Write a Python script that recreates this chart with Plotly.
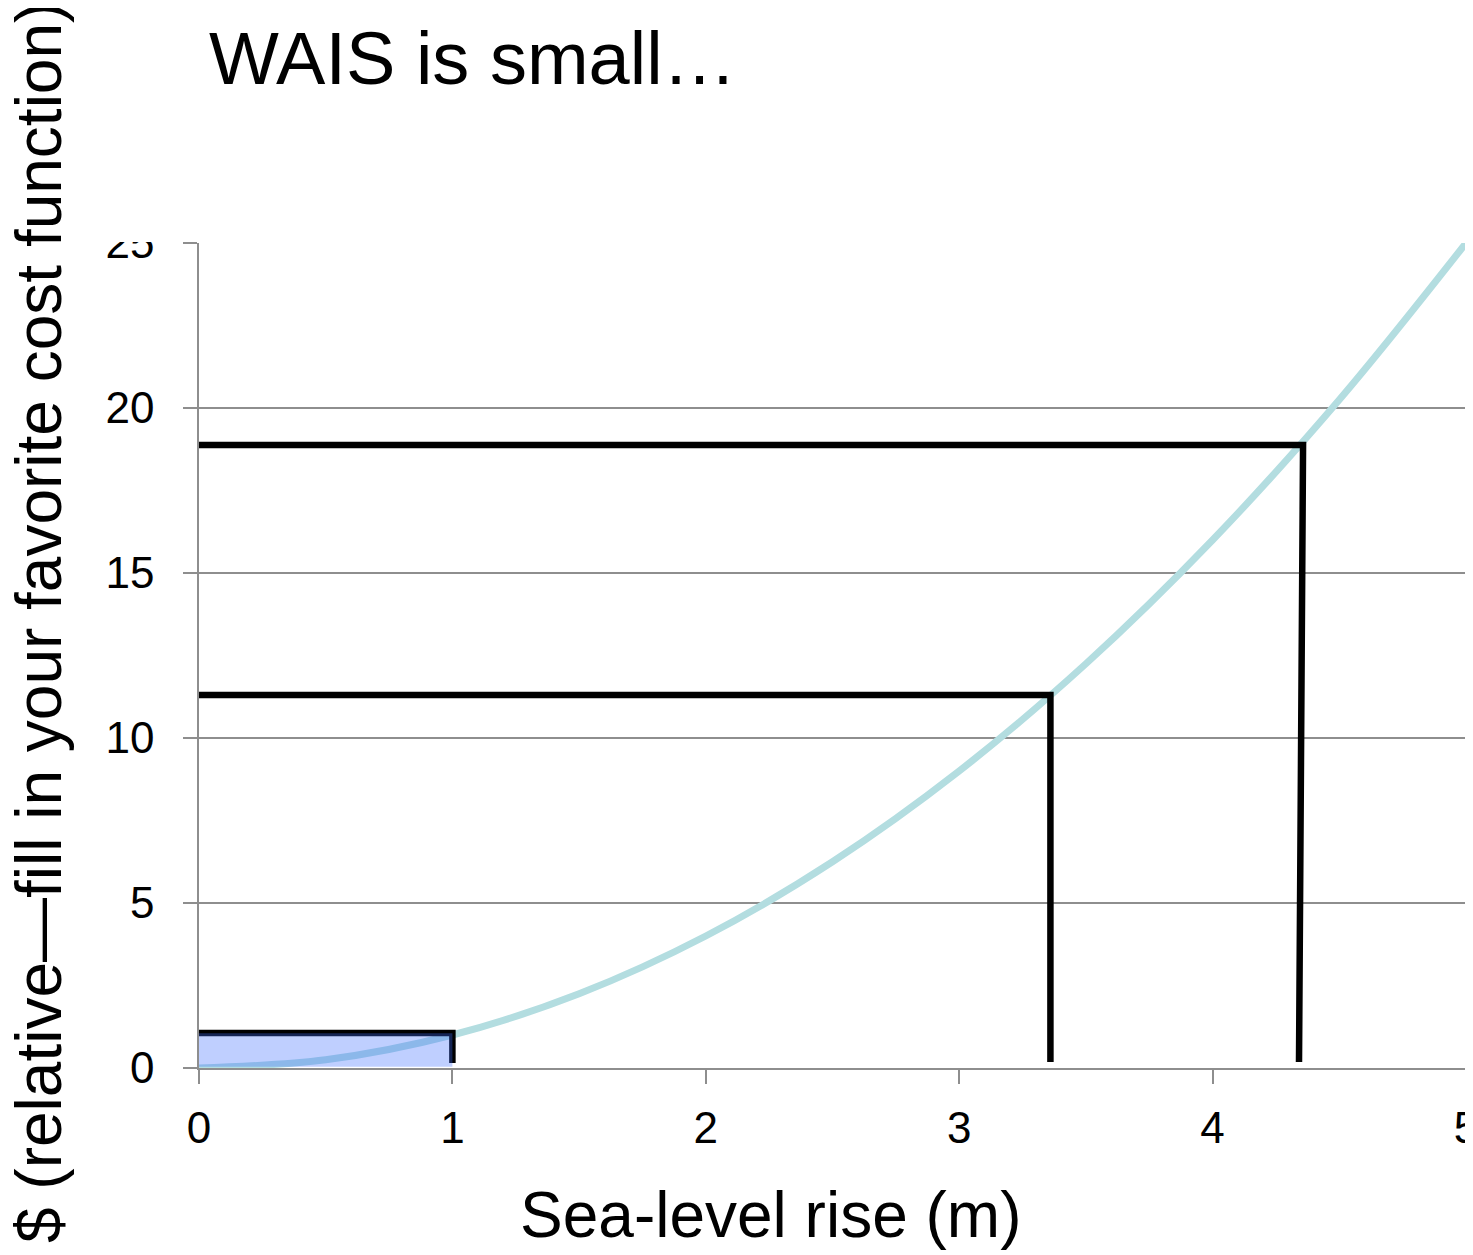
import plotly.graph_objects as go

# ---- data ----
curve_x = [0, 0.5, 1.0, 1.5, 2.0, 2.5, 3.0, 3.5, 4.0, 4.5, 5.0]
curve_y = [0, 0.25, 1.0, 2.25, 4.0, 6.25, 9.0, 12.25, 16.0, 20.25, 25.0]

# marker boxes: corner x (top), corner x (bottom), level y, bottom y
box_x_top = [1.0, 3.36, 4.357]
box_x_bottom = [1.0, 3.36, 4.341]
box_y = [1.06, 11.3, 18.88]
box_bottom = [0.15, 0.18, 0.18]

# shaded small box
shade_x = [0, 1.0]
shade_y = [0.04, 1.05]

x_ticks = [0, 1, 2, 3, 4, 5]
y_ticks = [0, 5, 10, 15, 20, 25]

title_text = "WAIS is small…"
x_title = "Sea-level rise (m)"
y_title = "$ (relative—fill in your favorite cost function)"

FONT = "Liberation Sans, Arial, sans-serif"
OFF = 8  # page offset of the figure in the browser
WIN_W, WIN_H = 1473, 1255
PL, PR, PT, PB = 199, 1466, 243, 1068  # plot area in screen pixels
PW, PH = PR - PL, PB - PT
W, H = WIN_W - OFF, WIN_H - OFF
L, T = PL - OFF, PT - OFF
R = W - L - PW
B = H - T - PH


def px(xp):
    return (xp - PL) / PW


def py(yp):
    return (PB - yp) / PH


fig = go.Figure()

fig.add_trace(go.Scatter(
    x=curve_x, y=curve_y, mode="lines", line=dict(color="#B3DDE0", width=7, shape="spline"),
    hoverinfo="skip", showlegend=False))

for xt, xb, yv, yb in zip(box_x_top, box_x_bottom, box_y, box_bottom):
    fig.add_trace(go.Scatter(
        x=[0, xt, xb], y=[yv, yv, yb], mode="lines",
        line=dict(color="black", width=6.5), hoverinfo="skip", showlegend=False))

fig.add_trace(go.Scatter(
    x=[shade_x[0], shade_x[1], shade_x[1], shade_x[0], shade_x[0]],
    y=[shade_y[0], shade_y[0], shade_y[1], shade_y[1], shade_y[0]],
    mode="lines", fill="toself", fillcolor="rgba(61,110,255,0.33)",
    line=dict(width=0, color="rgba(0,0,0,0)"), hoverinfo="skip", showlegend=False))

axis_common = dict(
    showline=True, linecolor="#8E8E8E", linewidth=1.5,
    ticks="outside", ticklen=14, tickcolor="#8E8E8E", tickwidth=1.5,
    tickfont=dict(family=FONT, size=44, color="black"),
    zeroline=False, ticklabeloverflow="allow", automargin=False,
)

fig.update_xaxes(range=[0, 5], tickvals=x_ticks, showgrid=False,
                 ticklabelstandoff=6, **axis_common)
fig.update_yaxes(range=[0, 25.0001], tickvals=y_ticks, showgrid=True,
                 gridcolor="#8E8E8E", gridwidth=1.5, ticklabelstandoff=20, **axis_common)

# white cover clipping the top of the "25" label
fig.add_shape(type="rect", xref="paper", yref="paper",
              x0=px(90), x1=px(180), y0=py(PT - 1), y1=py(0),
              fillcolor="white", line=dict(width=0), layer="above")

fig.add_annotation(text=title_text, xref="paper", yref="paper",
                   x=px(207), y=py(58), xanchor="left", yanchor="middle",
                   showarrow=False, font=dict(family=FONT, size=74, color="black"))
fig.add_annotation(text=x_title, xref="paper", yref="paper",
                   x=px(770), y=py(1215), xanchor="center", yanchor="middle",
                   showarrow=False, font=dict(family=FONT, size=64, color="black"))
fig.add_annotation(text=y_title, xref="paper", yref="paper",
                   x=px(39), y=py(623), xanchor="center", yanchor="middle",
                   textangle=-90, showarrow=False,
                   font=dict(family=FONT, size=64, color="black"))

fig.update_layout(
    width=W, height=H,
    margin=dict(l=L, r=R, t=T, b=B, autoexpand=False),
    paper_bgcolor="white", plot_bgcolor="white",
    showlegend=False,
)

fig.write_html("out.html")
